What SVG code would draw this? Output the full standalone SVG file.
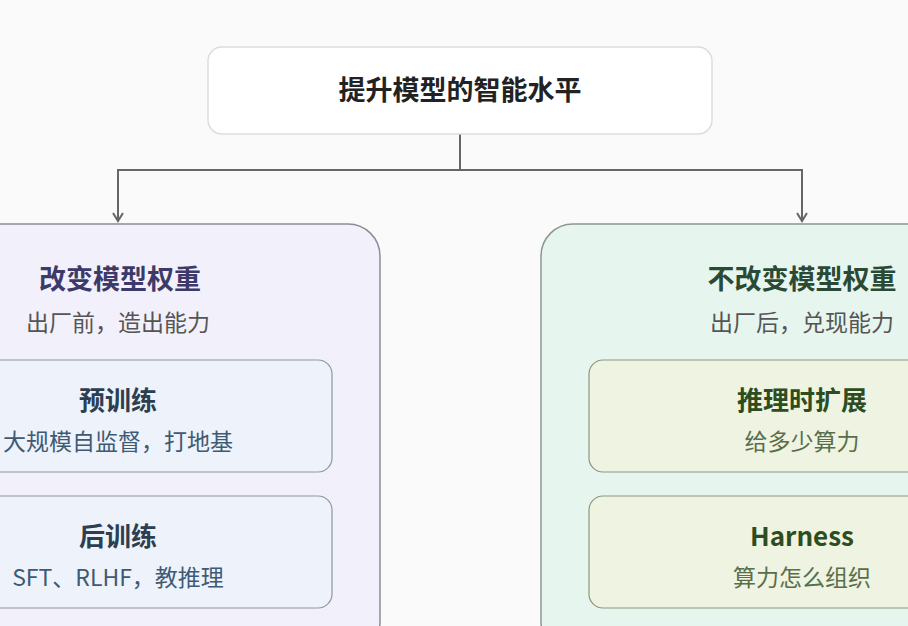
<svg xmlns="http://www.w3.org/2000/svg" width="908" height="626" viewBox="0 0 908 626">
<defs>
<marker id="ar" markerWidth="12" markerHeight="12" refX="10" refY="6" orient="auto" markerUnits="userSpaceOnUse"><path d="M2,1 L10,6 L2,11" fill="none" stroke="#666" stroke-width="2"/></marker>
</defs>
<style>
text{font-family:"Noto Sans CJK SC","Liberation Sans",sans-serif;text-anchor:middle}
.t{font-size:27px;font-weight:bold}
.s{font-size:23px;fill:#555}
.it{font-size:26px;font-weight:bold}
</style>
<rect width="908" height="626" fill="#fafafa"/>
<g id="connectors" fill="none" stroke="#666" stroke-width="2">
<path d="M460,134 V170 H118 V221" marker-end="url(#ar)"/>
<path d="M460,170 H802 V221" marker-end="url(#ar)"/>
</g>
<g id="root">
<rect x="208" y="47" width="504" height="87" rx="14" fill="#fff" stroke="#ddd" stroke-width="1.5"/>
<text x="460" y="100" class="t" fill="#222">提升模型的智能水平</text>
</g>
<g id="left">
<rect x="-30" y="224" width="410" height="430" rx="32" fill="#f1f0fb" stroke="#8c8c96" stroke-width="1.5"/>
<text x="120" y="289" class="t" fill="#3d3a6a">改变模型权重</text>
<text x="118" y="331" class="s">出厂前，造出能力</text>
</g>
<g id="pretrain">
<rect x="-20" y="360" width="352" height="112" rx="14" fill="#edf2fb" stroke="#8c96a0" stroke-width="1.2"/>
<text x="118" y="410" class="it" fill="#2c3e50">预训练</text>
<text x="118" y="450" class="s" style="fill:#3f5a75">大规模自监督，打地基</text>
</g>
<g id="posttrain">
<rect x="-20" y="496" width="352" height="112" rx="14" fill="#edf2fb" stroke="#8c96a0" stroke-width="1.2"/>
<text x="118" y="546" class="it" fill="#2c3e50">后训练</text>
<text x="118" y="586" class="s" style="fill:#3f5a75">SFT、RLHF，教推理</text>
</g>
<g id="right">
<rect x="541" y="224" width="420" height="430" rx="32" fill="#e6f5ee" stroke="#8c968e" stroke-width="1.5"/>
<text x="802" y="289" class="t" fill="#2a4a35">不改变模型权重</text>
<text x="802" y="331" class="s">出厂后，兑现能力</text>
</g>
<g id="scaling">
<rect x="589" y="360" width="352" height="112" rx="14" fill="#eef3e2" stroke="#8c9680" stroke-width="1.2"/>
<text x="802" y="410" class="it" fill="#2d4d1f">推理时扩展</text>
<text x="802" y="450" class="s" style="fill:#5a6e4a">给多少算力</text>
</g>
<g id="harness">
<rect x="589" y="496" width="352" height="112" rx="14" fill="#eef3e2" stroke="#8c9680" stroke-width="1.2"/>
<text x="802" y="546" class="it" fill="#2d4d1f">Harness</text>
<text x="802" y="586" class="s" style="fill:#5a6e4a">算力怎么组织</text>
</g>
</svg>
